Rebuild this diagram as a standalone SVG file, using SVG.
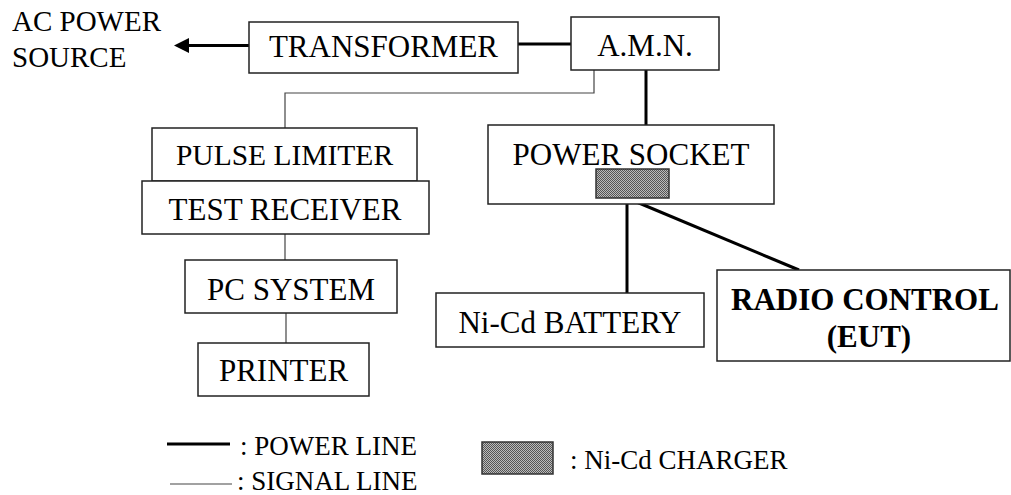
<svg xmlns="http://www.w3.org/2000/svg" width="1011" height="495" viewBox="0 0 1011 495">
<style>
text{font-family:"Liberation Serif",Tinos,"Times New Roman","DejaVu Serif","Noto Serif",serif;fill:#000}
.t{font-size:31px}
.tb{font-size:31px;font-weight:bold}
.lg{font-size:27px}
.box{fill:#fff;stroke:#222;stroke-width:1.5}
.pw{stroke:#000;stroke-width:3;fill:none}
.sg{stroke:#444;stroke-width:1.2;fill:none}
.chg{fill:url(#dots);stroke:#333;stroke-width:1.5}
</style>
<defs>
<pattern id="dots" width="2" height="2" patternUnits="userSpaceOnUse">
<rect width="2" height="2" fill="#bbb"/>
<rect width="1" height="1" fill="#555"/>
<rect x="1" y="1" width="1" height="1" fill="#555"/>
</pattern>
<marker id="ah" markerWidth="5" markerHeight="5" refX="4" refY="2.5" orient="auto" markerUnits="strokeWidth">
<path d="M0,0 L5,2.5 L0,5 Z" fill="#000"/>
</marker>
</defs>
<g id="connectors">
<line class="pw" x1="249" y1="45.5" x2="177" y2="45.5" marker-end="url(#ah)"/>
<line class="pw" x1="518" y1="44" x2="571" y2="44"/>
<polyline class="sg" points="594,70 594,93 285,93 285,128"/>
<line class="pw" x1="646" y1="70" x2="646" y2="125"/>
<line class="sg" x1="285" y1="234" x2="285" y2="260"/>
<line class="sg" x1="286" y1="313" x2="286" y2="343"/>
<line class="pw" x1="627" y1="198" x2="627" y2="293"/>
<line class="pw" x1="627" y1="198" x2="799" y2="270"/>
</g>
<g id="ac-power-source">
<text x="12" y="31" style="font-size:29px">AC POWER</text>
<text x="12" y="67" style="font-size:29px">SOURCE</text>
</g>
<g id="transformer">
<rect class="box" x="249" y="22" width="269" height="51"/>
<text class="t" x="383.5" y="57" text-anchor="middle">TRANSFORMER</text>
</g>
<g id="amn">
<rect class="box" x="571" y="17" width="148" height="53"/>
<text class="t" x="645" y="56" text-anchor="middle">A.M.N.</text>
</g>
<g id="pulse-limiter">
<rect class="box" x="152" y="128" width="265" height="53"/>
<text class="t" x="284.5" y="165" text-anchor="middle" style="font-size:29.5px">PULSE LIMITER</text>
</g>
<g id="test-receiver">
<rect class="box" x="142" y="181" width="287" height="53"/>
<text class="t" x="285" y="220" text-anchor="middle">TEST RECEIVER</text>
</g>
<g id="pc-system">
<rect class="box" x="185" y="260" width="212" height="53"/>
<text class="t" x="291" y="300" text-anchor="middle">PC SYSTEM</text>
</g>
<g id="printer">
<rect class="box" x="198" y="343" width="171" height="53"/>
<text class="t" x="283.5" y="381" text-anchor="middle">PRINTER</text>
</g>
<g id="power-socket">
<rect class="box" x="488" y="125" width="286" height="79"/>
<text class="t" x="631" y="165" text-anchor="middle">POWER SOCKET</text>
<rect class="chg" x="596" y="169" width="73" height="29"/>
</g>
<g id="nicd-battery">
<rect class="box" x="436" y="293" width="268" height="54"/>
<text class="t" x="570" y="333" text-anchor="middle">Ni-Cd BATTERY</text>
</g>
<g id="radio-control">
<rect class="box" x="717" y="270" width="293" height="91"/>
<text class="tb" x="865" y="310" text-anchor="middle">RADIO CONTROL</text>
<text class="tb" x="869" y="347" text-anchor="middle">(EUT)</text>
</g>
<g id="legend">
<line class="pw" x1="167" y1="444" x2="230" y2="444"/>
<text class="lg" x="240" y="455">: POWER LINE</text>
<line class="sg" x1="170" y1="484" x2="232" y2="484"/>
<text class="lg" x="237" y="490">: SIGNAL LINE</text>
<rect class="chg" x="482" y="442" width="71" height="32"/>
<text class="lg" x="570" y="469">: Ni-Cd CHARGER</text>
</g>
</svg>
